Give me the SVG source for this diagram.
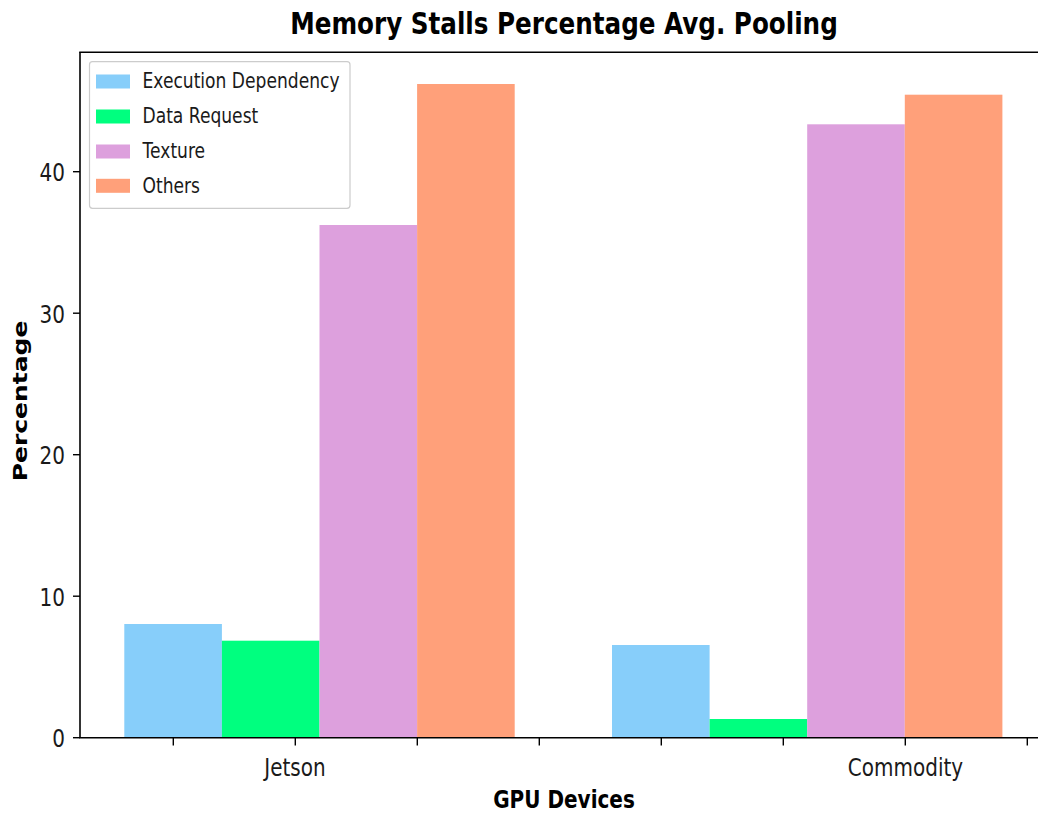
<svg xmlns="http://www.w3.org/2000/svg" width="1038" height="819" viewBox="0 0 1038 819">
  <style>
    text { font-family: "DejaVu Sans", "Liberation Sans", sans-serif; fill: #1a1a1a; }
    .title { font-size: 30.8px; font-weight: bold; fill: #000; }
    .axlabel { font-size: 25px; font-weight: bold; fill: #000; }
    .tick { font-size: 25px; }
    .leg { font-size: 21.4px; }
    .spine { stroke: #000; stroke-width: 1.6; fill: none; }
    .tk { stroke: #000; stroke-width: 1.4; }
    .exec { fill: #87CEFA; }
    .data { fill: #00FF7F; }
    .tex { fill: #DDA0DD; }
    .oth { fill: #FFA07A; }
  </style>

  <rect x="0" y="0" width="1038" height="819" fill="#ffffff"/>

  <!-- title -->
  <text class="title" text-anchor="middle" transform="translate(564,34) scale(0.8,1)">Memory Stalls Percentage Avg. Pooling</text>

  <!-- bars: Jetson group -->
  <g id="jetson">
    <rect id="jetson-exec" class="exec" x="124.3" y="624" width="97.6" height="113.7"/>
    <rect id="jetson-data" class="data" x="221.9" y="640.7" width="97.6" height="97"/>
    <rect id="jetson-tex" class="tex" x="319.5" y="225" width="97.6" height="512.7"/>
    <rect id="jetson-oth" class="oth" x="417.1" y="84" width="97.6" height="653.7"/>
  </g>

  <!-- bars: Commodity group -->
  <g id="commodity">
    <rect id="commodity-exec" class="exec" x="612" y="645" width="97.6" height="92.7"/>
    <rect id="commodity-data" class="data" x="709.6" y="719" width="97.6" height="18.7"/>
    <rect id="commodity-tex" class="tex" x="807.2" y="124.3" width="97.6" height="613.4"/>
    <rect id="commodity-oth" class="oth" x="904.8" y="94.7" width="97.6" height="643"/>
  </g>

  <!-- axes frame -->
  <g id="axes">
    <line class="spine" x1="80" y1="52.3" x2="80" y2="737.7"/>
    <line class="spine" x1="79.2" y1="52.3" x2="1038" y2="52.3"/>
    <line class="spine" x1="79.2" y1="737.7" x2="1038" y2="737.7"/>

    <!-- y ticks -->
    <g class="tk">
      <line x1="73" y1="737.7" x2="80" y2="737.7"/>
      <line x1="73" y1="596.2" x2="80" y2="596.2"/>
      <line x1="73" y1="454.7" x2="80" y2="454.7"/>
      <line x1="73" y1="313.2" x2="80" y2="313.2"/>
      <line x1="73" y1="171.7" x2="80" y2="171.7"/>
    </g>
    <g class="tick" text-anchor="end">
      <text transform="translate(65,747) scale(0.8,1)">0</text>
      <text transform="translate(65,605.5) scale(0.8,1)">10</text>
      <text transform="translate(65,464) scale(0.8,1)">20</text>
      <text transform="translate(65,322.5) scale(0.8,1)">30</text>
      <text transform="translate(65,181) scale(0.8,1)">40</text>
    </g>

    <!-- x ticks -->
    <g class="tk">
      <line x1="173.3" y1="737.7" x2="173.3" y2="745.5"/>
      <line x1="295.3" y1="737.7" x2="295.3" y2="745.5"/>
      <line x1="417.3" y1="737.7" x2="417.3" y2="745.5"/>
      <line x1="539.3" y1="737.7" x2="539.3" y2="745.5"/>
      <line x1="661.3" y1="737.7" x2="661.3" y2="745.5"/>
      <line x1="783.3" y1="737.7" x2="783.3" y2="745.5"/>
      <line x1="905.3" y1="737.7" x2="905.3" y2="745.5"/>
      <line x1="1027.3" y1="737.7" x2="1027.3" y2="745.5"/>
    </g>
    <g class="tick" text-anchor="middle">
      <text transform="translate(295,775.5) scale(0.8,1)">Jetson</text>
      <text transform="translate(905.5,775.5) scale(0.8,1)">Commodity</text>
    </g>

    <!-- axis titles -->
    <text class="axlabel" text-anchor="middle" transform="translate(564,808) scale(0.8,1)">GPU Devices</text>
    <text class="axlabel" text-anchor="middle" transform="translate(27,401) scale(0.8,1) rotate(-90)">Percentage</text>
  </g>

  <!-- legend -->
  <g id="legend">
    <rect x="89.5" y="61.7" width="260.5" height="146.6" rx="3" ry="3" fill="#ffffff" fill-opacity="0.85" stroke="#cccccc" stroke-width="1.2"/>
    <rect class="exec" x="96" y="74.5" width="34" height="14"/>
    <rect class="data" x="96" y="109.5" width="34" height="14"/>
    <rect class="tex" x="96" y="144.5" width="34" height="14"/>
    <rect class="oth" x="96" y="178.8" width="34" height="14"/>
    <g class="leg">
      <text transform="translate(142.5,88.3) scale(0.8,1)">Execution Dependency</text>
      <text transform="translate(142.5,123.3) scale(0.8,1)">Data Request</text>
      <text transform="translate(142.5,158.3) scale(0.8,1)">Texture</text>
      <text transform="translate(142.5,192.7) scale(0.8,1)">Others</text>
    </g>
  </g>
</svg>
